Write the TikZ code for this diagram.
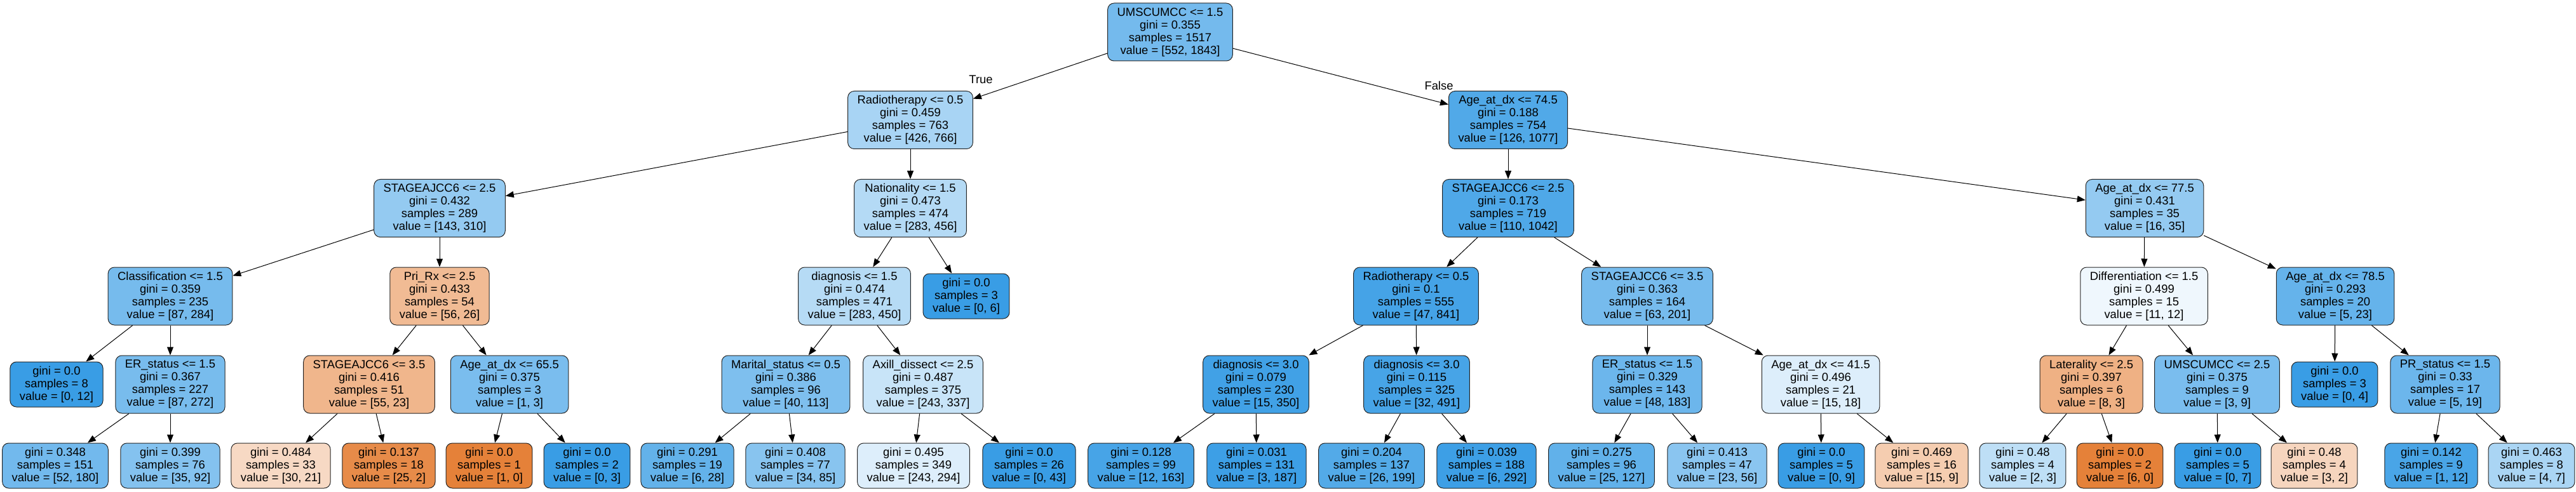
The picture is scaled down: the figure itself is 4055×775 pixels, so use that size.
\documentclass[tikz,border=0pt]{standalone}
\usepackage{fontspec}
\usepackage{tikz}
\usetikzlibrary{arrows.meta}
\newfontfamily\dtfamily{Liberation Sans}
\newcommand{\dtfont}{\dtfamily\fontsize{9.2}{10}\selectfont}
\newcommand{\dtsplit}[4]{#1\\gini = #2\\samples = #3\\value = [#4]}
\newcommand{\dtleaf}[3]{gini = #1\\samples = #2\\value = [#3]}
\definecolor{ClassA}{HTML}{E58139}
\definecolor{ClassB}{HTML}{399DE5}
\tikzset{
    dtnode/.style={rectangle, rounded corners=5pt, draw=black!85, line width=0.5pt, align=center, font=\dtfont, inner xsep=7.5pt, inner ysep=0pt, minimum height=45.5pt},
    dtleafnode/.style={dtnode, minimum height=35.5pt},
    dtarrow/.style={-{Triangle[length=6.5pt,width=5pt]}, line width=0.5pt, color=black},
    branchlbl/.style={font=\dtfont, inner sep=0pt},
}
\begin{document}
\begin{tikzpicture}[x=0.5pt, y=-0.5pt]
                \useasboundingbox (0,0) rectangle (4055,775);

                % 0. Radice
                \node[dtnode, fill=ClassB!70] (root) at (1842, 50.5) {\dtsplit{UMSCUMCC <= 1.5}{0.355}{1517}{552, 1843}};

                % 1. Primo livello
                \node[dtnode, fill=ClassB!44] (radA) at (1433, 189) {\dtsplit{Radiotherapy <= 0.5}{0.459}{763}{426, 766}};
                \node[dtnode, fill=ClassB!88] (ageA) at (2374, 189) {\dtsplit{Age\_at\_dx <= 74.5}{0.188}{754}{126, 1077}};
                \node[branchlbl] (truelbl) at (1544, 125) {True};
                \node[branchlbl] (falselbl) at (2265, 135) {False};

                % 2. Secondo livello
                \node[dtnode, fill=ClassB!54] (stgA) at (692, 328) {\dtsplit{STAGEAJCC6 <= 2.5}{0.432}{289}{143, 310}};
                \node[dtnode, fill=ClassB!38] (natA) at (1433, 328) {\dtsplit{Nationality <= 1.5}{0.473}{474}{283, 456}};
                \node[dtnode, fill=ClassB!89] (stgB) at (2374, 328) {\dtsplit{STAGEAJCC6 <= 2.5}{0.173}{719}{110, 1042}};
                \node[dtnode, fill=ClassB!54] (ageB) at (3376, 328) {\dtsplit{Age\_at\_dx <= 77.5}{0.431}{35}{16, 35}};

                % 3. Terzo livello
                \node[dtnode, fill=ClassB!69] (clsA) at (268, 466.5) {\dtsplit{Classification <= 1.5}{0.359}{235}{87, 284}};
                \node[dtnode, fill=ClassA!54] (priA) at (692, 466.5) {\dtsplit{Pri\_Rx <= 2.5}{0.433}{54}{56, 26}};
                \node[dtnode, fill=ClassB!37] (diaA) at (1345, 466.5) {\dtsplit{diagnosis <= 1.5}{0.474}{471}{283, 450}};
                \node[dtleafnode, fill=ClassB] (lfA) at (1521, 466.5) {\dtleaf{0.0}{3}{0, 6}};
                \node[dtnode, fill=ClassB!94] (radB) at (2229, 466.5) {\dtsplit{Radiotherapy <= 0.5}{0.1}{555}{47, 841}};
                \node[dtnode, fill=ClassB!69] (stgC) at (2593, 466.5) {\dtsplit{STAGEAJCC6 <= 3.5}{0.363}{164}{63, 201}};
                \node[dtnode, fill=ClassB!8] (difA) at (3375, 466.5) {\dtsplit{Differentiation <= 1.5}{0.499}{15}{11, 12}};
                \node[dtnode, fill=ClassB!78] (ageC) at (3676, 466.5) {\dtsplit{Age\_at\_dx <= 78.5}{0.293}{20}{5, 23}};

                % 4. Quarto livello
                \node[dtleafnode, fill=ClassB] (lfB) at (89, 605.5) {\dtleaf{0.0}{8}{0, 12}};
                \node[dtnode, fill=ClassB!68] (erA) at (268, 605.5) {\dtsplit{ER\_status <= 1.5}{0.367}{227}{87, 272}};
                \node[dtnode, fill=ClassA!58] (stgD) at (581, 605.5) {\dtsplit{STAGEAJCC6 <= 3.5}{0.416}{51}{55, 23}};
                \node[dtnode, fill=ClassB!67] (ageD) at (802, 605.5) {\dtsplit{Age\_at\_dx <= 65.5}{0.375}{3}{1, 3}};
                \node[dtnode, fill=ClassB!65] (marA) at (1237, 605.5) {\dtsplit{Marital\_status <= 0.5}{0.386}{96}{40, 113}};
                \node[dtnode, fill=ClassB!28] (axlA) at (1453, 605.5) {\dtsplit{Axill\_dissect <= 2.5}{0.487}{375}{243, 337}};
                \node[dtnode, fill=ClassB!96] (diaB) at (1977, 605.5) {\dtsplit{diagnosis <= 3.0}{0.079}{230}{15, 350}};
                \node[dtnode, fill=ClassB!93] (diaC) at (2230, 605.5) {\dtsplit{diagnosis <= 3.0}{0.115}{325}{32, 491}};
                \node[dtnode, fill=ClassB!74] (erB) at (2593, 605.5) {\dtsplit{ER\_status <= 1.5}{0.329}{143}{48, 183}};
                \node[dtnode, fill=ClassB!17] (ageE) at (2866, 605.5) {\dtsplit{Age\_at\_dx <= 41.5}{0.496}{21}{15, 18}};
                \node[dtnode, fill=ClassA!62] (latA) at (3292, 605.5) {\dtsplit{Laterality <= 2.5}{0.397}{6}{8, 3}};
                \node[dtnode, fill=ClassB!67] (umsA) at (3490, 605.5) {\dtsplit{UMSCUMCC <= 2.5}{0.375}{9}{3, 9}};
                \node[dtleafnode, fill=ClassB] (lfC) at (3675, 605.5) {\dtleaf{0.0}{3}{0, 4}};
                \node[dtnode, fill=ClassB!74] (prA) at (3849, 605.5) {\dtsplit{PR\_status <= 1.5}{0.33}{17}{5, 19}};

                % 5. Foglie in basso
                \node[dtleafnode, fill=ClassB!71] (lf01) at (87, 733.5) {\dtleaf{0.348}{151}{52, 180}};
                \node[dtleafnode, fill=ClassB!62] (lf02) at (268, 733.5) {\dtleaf{0.399}{76}{35, 92}};
                \node[dtleafnode, fill=ClassA!30] (lf03) at (442, 733.5) {\dtleaf{0.484}{33}{30, 21}};
                \node[dtleafnode, fill=ClassA!92] (lf04) at (612, 733.5) {\dtleaf{0.137}{18}{25, 2}};
                \node[dtleafnode, fill=ClassA] (lf05) at (770, 733.5) {\dtleaf{0.0}{1}{1, 0}};
                \node[dtleafnode, fill=ClassB] (lf06) at (924, 733.5) {\dtleaf{0.0}{2}{0, 3}};
                \node[dtleafnode, fill=ClassB!79] (lf07) at (1082, 733.5) {\dtleaf{0.291}{19}{6, 28}};
                \node[dtleafnode, fill=ClassB!60] (lf08) at (1252, 733.5) {\dtleaf{0.408}{77}{34, 85}};
                \node[dtleafnode, fill=ClassB!17] (lf09) at (1438, 733.5) {\dtleaf{0.495}{349}{243, 294}};
                \node[dtleafnode, fill=ClassB] (lf10) at (1620, 733.5) {\dtleaf{0.0}{26}{0, 43}};
                \node[dtleafnode, fill=ClassB!93] (lf11) at (1796, 733.5) {\dtleaf{0.128}{99}{12, 163}};
                \node[dtleafnode, fill=ClassB!98] (lf12) at (1978, 733.5) {\dtleaf{0.031}{131}{3, 187}};
                \node[dtleafnode, fill=ClassB!87] (lf13) at (2159, 733.5) {\dtleaf{0.204}{137}{26, 199}};
                \node[dtleafnode, fill=ClassB!98] (lf14) at (2340, 733.5) {\dtleaf{0.039}{188}{6, 292}};
                \node[dtleafnode, fill=ClassB!80] (lf15) at (2521, 733.5) {\dtleaf{0.275}{96}{25, 127}};
                \node[dtleafnode, fill=ClassB!59] (lf16) at (2703, 733.5) {\dtleaf{0.413}{47}{23, 56}};
                \node[dtleafnode, fill=ClassB] (lf17) at (2867, 733.5) {\dtleaf{0.0}{5}{0, 9}};
                \node[dtleafnode, fill=ClassA!40] (lf18) at (3025, 733.5) {\dtleaf{0.469}{16}{15, 9}};
                \node[dtleafnode, fill=ClassB!33] (lf19) at (3184, 733.5) {\dtleaf{0.48}{4}{2, 3}};
                \node[dtleafnode, fill=ClassA] (lf20) at (3337, 733.5) {\dtleaf{0.0}{2}{6, 0}};
                \node[dtleafnode, fill=ClassB] (lf21) at (3491, 733.5) {\dtleaf{0.0}{5}{0, 7}};
                \node[dtleafnode, fill=ClassA!33] (lf22) at (3643, 733.5) {\dtleaf{0.48}{4}{3, 2}};
                \node[dtleafnode, fill=ClassB!92] (lf23) at (3827, 733.5) {\dtleaf{0.142}{9}{1, 12}};
                \node[dtleafnode, fill=ClassB!43] (lf24) at (3985, 733.5) {\dtleaf{0.463}{8}{4, 7}};

                % Frecce: ramo True (sinistra)
                \draw[dtarrow] (root) -- (radA);
                \draw[dtarrow] (radA) -- (stgA);
                \draw[dtarrow] (radA) -- (natA);
                \draw[dtarrow] (stgA) -- (clsA);
                \draw[dtarrow] (stgA) -- (priA);
                \draw[dtarrow] (clsA) -- (lfB);
                \draw[dtarrow] (clsA) -- (erA);
                \draw[dtarrow] (erA) -- (lf01);
                \draw[dtarrow] (erA) -- (lf02);
                \draw[dtarrow] (priA) -- (stgD);
                \draw[dtarrow] (priA) -- (ageD);
                \draw[dtarrow] (stgD) -- (lf03);
                \draw[dtarrow] (stgD) -- (lf04);
                \draw[dtarrow] (ageD) -- (lf05);
                \draw[dtarrow] (ageD) -- (lf06);
                \draw[dtarrow] (natA) -- (diaA);
                \draw[dtarrow] (natA) -- (lfA);
                \draw[dtarrow] (diaA) -- (marA);
                \draw[dtarrow] (diaA) -- (axlA);
                \draw[dtarrow] (marA) -- (lf07);
                \draw[dtarrow] (marA) -- (lf08);
                \draw[dtarrow] (axlA) -- (lf09);
                \draw[dtarrow] (axlA) -- (lf10);

                % Frecce: ramo False (destra)
                \draw[dtarrow] (root) -- (ageA);
                \draw[dtarrow] (ageA) -- (stgB);
                \draw[dtarrow] (ageA) -- (ageB);
                \draw[dtarrow] (stgB) -- (radB);
                \draw[dtarrow] (stgB) -- (stgC);
                \draw[dtarrow] (radB) -- (diaB);
                \draw[dtarrow] (radB) -- (diaC);
                \draw[dtarrow] (diaB) -- (lf11);
                \draw[dtarrow] (diaB) -- (lf12);
                \draw[dtarrow] (diaC) -- (lf13);
                \draw[dtarrow] (diaC) -- (lf14);
                \draw[dtarrow] (stgC) -- (erB);
                \draw[dtarrow] (stgC) -- (ageE);
                \draw[dtarrow] (erB) -- (lf15);
                \draw[dtarrow] (erB) -- (lf16);
                \draw[dtarrow] (ageE) -- (lf17);
                \draw[dtarrow] (ageE) -- (lf18);
                \draw[dtarrow] (ageB) -- (difA);
                \draw[dtarrow] (ageB) -- (ageC);
                \draw[dtarrow] (difA) -- (latA);
                \draw[dtarrow] (difA) -- (umsA);
                \draw[dtarrow] (latA) -- (lf19);
                \draw[dtarrow] (latA) -- (lf20);
                \draw[dtarrow] (umsA) -- (lf21);
                \draw[dtarrow] (umsA) -- (lf22);
                \draw[dtarrow] (ageC) -- (lfC);
                \draw[dtarrow] (ageC) -- (prA);
                \draw[dtarrow] (prA) -- (lf23);
                \draw[dtarrow] (prA) -- (lf24);

            \end{tikzpicture}
\end{document}
